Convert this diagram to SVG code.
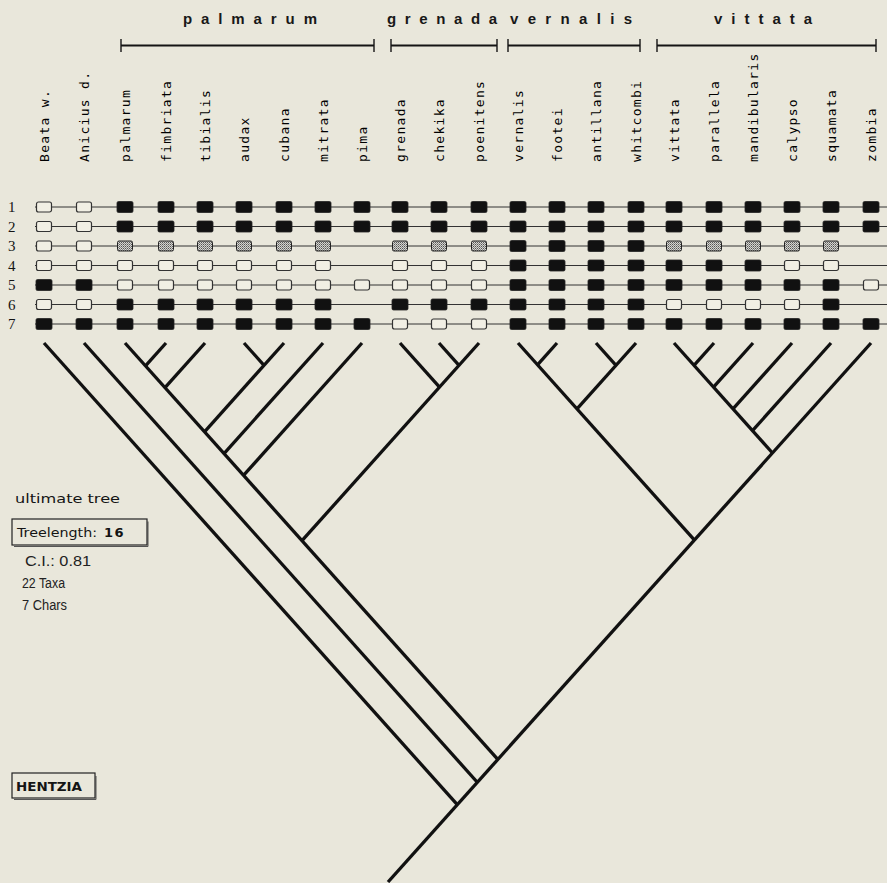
<svg xmlns="http://www.w3.org/2000/svg" width="887" height="883" viewBox="0 0 887 883">
<style>
.hdr{font-family:"Liberation Sans",Arial,sans-serif;font-size:15px;font-weight:bold;fill:#181818}
.lbl{font-family:"DejaVu Sans Mono","Liberation Mono",monospace;font-size:13px;letter-spacing:1.3px;fill:#000}
.num{font-family:"Liberation Serif","Times New Roman",serif;font-size:15px;fill:#141414}
.txt{font-family:"DejaVu Sans","Liberation Sans",sans-serif;font-size:13px;fill:#141414}
.txt2{font-family:"Liberation Sans",Arial,sans-serif;font-size:14px;fill:#222}
.brk{stroke:#141414;stroke-width:2;fill:none}
.tick{stroke:#141414;stroke-width:1.4;fill:none}
.rowl{stroke:#333;stroke-width:1;fill:none}
.b{fill:#111;stroke:#222;stroke-width:0.8}
.o{fill:#f1efe4;stroke:#333;stroke-width:1.2}
.s{fill:url(#st);stroke:#222;stroke-width:1}
.tree line{stroke:#111;stroke-width:3.3;stroke-linecap:butt}
.box{fill:none;stroke:#222;stroke-width:1.2}
.shd{fill:none;stroke:#555;stroke-width:1}
</style>
<defs>
<pattern id="st" width="2" height="2" patternUnits="userSpaceOnUse"><rect width="2" height="2" fill="#d6d6d0"/><rect width="1" height="1" fill="#555"/><rect x="1" y="1" width="1" height="1" fill="#888"/></pattern>
<rect id="B" x="-8" y="-5.5" width="16" height="11" rx="1.5" class="b"/>
<rect id="O" x="-7.5" y="-5" width="15" height="10" rx="2" class="o"/>
<rect id="S" x="-7.5" y="-5" width="15" height="10" rx="1.5" class="s"/>
</defs>
<rect width="887" height="883" fill="#e9e7db"/>

<g id="groups">
<text class="hdr" x="183" y="24" textLength="134" lengthAdjust="spacing">palmarum</text>
<text class="hdr" x="387" y="24" textLength="110" lengthAdjust="spacing">grenada</text>
<text class="hdr" x="510" y="24" textLength="122" lengthAdjust="spacing">vernalis</text>
<text class="hdr" x="714" y="24" textLength="98" lengthAdjust="spacing">vittata</text>
<path class="brk" d="M121 45.5H374M391 45.5H497M508 45.5H640M657 45.5H876"/>
<path class="tick" d="M121 39V52M374 39V52M391 39V52M497 39V52M508 39V52M640 39V52M657 39V52M876 39V52"/>
</g>

<g id="taxa" class="lbl">
<g id="t-beata"><text transform="translate(49,162) rotate(-90)">Beata w.</text></g>
<g id="t-anicius"><text transform="translate(89,162) rotate(-90)">Anicius d.</text></g>
<g id="t-palmarum"><text transform="translate(130,162) rotate(-90)">palmarum</text></g>
<g id="t-fimbriata"><text transform="translate(171,162) rotate(-90)">fimbriata</text></g>
<g id="t-tibialis"><text transform="translate(210,162) rotate(-90)">tibialis</text></g>
<g id="t-audax"><text transform="translate(249,162) rotate(-90)">audax</text></g>
<g id="t-cubana"><text transform="translate(289,162) rotate(-90)">cubana</text></g>
<g id="t-mitrata"><text transform="translate(328,162) rotate(-90)">mitrata</text></g>
<g id="t-pima"><text transform="translate(367,162) rotate(-90)">pima</text></g>
<g id="t-grenada"><text transform="translate(405,162) rotate(-90)">grenada</text></g>
<g id="t-chekika"><text transform="translate(444,162) rotate(-90)">chekika</text></g>
<g id="t-poenitens"><text transform="translate(484,162) rotate(-90)">poenitens</text></g>
<g id="t-vernalis"><text transform="translate(523,162) rotate(-90)">vernalis</text></g>
<g id="t-footei"><text transform="translate(562,162) rotate(-90)">footei</text></g>
<g id="t-antillana"><text transform="translate(601,162) rotate(-90)">antillana</text></g>
<g id="t-whitcombi"><text transform="translate(641,162) rotate(-90)">whitcombi</text></g>
<g id="t-vittata"><text transform="translate(679,162) rotate(-90)">vittata</text></g>
<g id="t-parallela"><text transform="translate(719,162) rotate(-90)">parallela</text></g>
<g id="t-mandibularis"><text transform="translate(758,162) rotate(-90)">mandibularis</text></g>
<g id="t-calypso"><text transform="translate(797,162) rotate(-90)">calypso</text></g>
<g id="t-squamata"><text transform="translate(836,162) rotate(-90)">squamata</text></g>
<g id="t-zombia"><text transform="translate(876,162) rotate(-90)">zombia</text></g>
</g>

<g id="matrix">
<g class="num">
<text x="8" y="212">1</text><text x="8" y="231.5">2</text><text x="8" y="251">3</text><text x="8" y="270.5">4</text><text x="8" y="290">5</text><text x="8" y="309.5">6</text><text x="8" y="329">7</text>
</g>
<path class="rowl" d="M35 207H887M35 226.5H887M35 246H887M35 265.5H887M35 285H887M35 304.5H887M35 324H887"/>
<g id="row1">
<use href="#O" x="44" y="207"/><use href="#O" x="84" y="207"/>
<use href="#B" x="125" y="207"/><use href="#B" x="166" y="207"/><use href="#B" x="205" y="207"/><use href="#B" x="244" y="207"/><use href="#B" x="284" y="207"/><use href="#B" x="323" y="207"/><use href="#B" x="362" y="207"/><use href="#B" x="400" y="207"/><use href="#B" x="439" y="207"/><use href="#B" x="479" y="207"/><use href="#B" x="518" y="207"/><use href="#B" x="557" y="207"/><use href="#B" x="596" y="207"/><use href="#B" x="636" y="207"/><use href="#B" x="674" y="207"/><use href="#B" x="714" y="207"/><use href="#B" x="753" y="207"/><use href="#B" x="792" y="207"/><use href="#B" x="831" y="207"/><use href="#B" x="871" y="207"/>
</g>
<g id="row2">
<use href="#O" x="44" y="226.5"/><use href="#O" x="84" y="226.5"/>
<use href="#B" x="125" y="226.5"/><use href="#B" x="166" y="226.5"/><use href="#B" x="205" y="226.5"/><use href="#B" x="244" y="226.5"/><use href="#B" x="284" y="226.5"/><use href="#B" x="323" y="226.5"/><use href="#B" x="362" y="226.5"/><use href="#B" x="400" y="226.5"/><use href="#B" x="439" y="226.5"/><use href="#B" x="479" y="226.5"/><use href="#B" x="518" y="226.5"/><use href="#B" x="557" y="226.5"/><use href="#B" x="596" y="226.5"/><use href="#B" x="636" y="226.5"/><use href="#B" x="674" y="226.5"/><use href="#B" x="714" y="226.5"/><use href="#B" x="753" y="226.5"/><use href="#B" x="792" y="226.5"/><use href="#B" x="831" y="226.5"/><use href="#B" x="871" y="226.5"/>
</g>
<g id="row3">
<use href="#O" x="44" y="246"/><use href="#O" x="84" y="246"/>
<use href="#S" x="125" y="246"/><use href="#S" x="166" y="246"/><use href="#S" x="205" y="246"/><use href="#S" x="244" y="246"/><use href="#S" x="284" y="246"/><use href="#S" x="323" y="246"/>
<use href="#S" x="400" y="246"/><use href="#S" x="439" y="246"/><use href="#S" x="479" y="246"/>
<use href="#B" x="518" y="246"/><use href="#B" x="557" y="246"/><use href="#B" x="596" y="246"/><use href="#B" x="636" y="246"/>
<use href="#S" x="674" y="246"/><use href="#S" x="714" y="246"/><use href="#S" x="753" y="246"/><use href="#S" x="792" y="246"/><use href="#S" x="831" y="246"/>
</g>
<g id="row4">
<use href="#O" x="44" y="265.5"/><use href="#O" x="84" y="265.5"/><use href="#O" x="125" y="265.5"/><use href="#O" x="166" y="265.5"/><use href="#O" x="205" y="265.5"/><use href="#O" x="244" y="265.5"/><use href="#O" x="284" y="265.5"/><use href="#O" x="323" y="265.5"/>
<use href="#O" x="400" y="265.5"/><use href="#O" x="439" y="265.5"/><use href="#O" x="479" y="265.5"/>
<use href="#B" x="518" y="265.5"/><use href="#B" x="557" y="265.5"/><use href="#B" x="596" y="265.5"/><use href="#B" x="636" y="265.5"/><use href="#B" x="674" y="265.5"/><use href="#B" x="714" y="265.5"/><use href="#B" x="753" y="265.5"/>
<use href="#O" x="792" y="265.5"/><use href="#O" x="831" y="265.5"/>
</g>
<g id="row5">
<use href="#B" x="44" y="285"/><use href="#B" x="84" y="285"/>
<use href="#O" x="125" y="285"/><use href="#O" x="166" y="285"/><use href="#O" x="205" y="285"/><use href="#O" x="244" y="285"/><use href="#O" x="284" y="285"/><use href="#O" x="323" y="285"/><use href="#O" x="362" y="285"/><use href="#O" x="400" y="285"/><use href="#O" x="439" y="285"/><use href="#O" x="479" y="285"/>
<use href="#B" x="518" y="285"/><use href="#B" x="557" y="285"/><use href="#B" x="596" y="285"/><use href="#B" x="636" y="285"/><use href="#B" x="674" y="285"/><use href="#B" x="714" y="285"/><use href="#B" x="753" y="285"/><use href="#B" x="792" y="285"/><use href="#B" x="831" y="285"/>
<use href="#O" x="871" y="285"/>
</g>
<g id="row6">
<use href="#O" x="44" y="304.5"/><use href="#O" x="84" y="304.5"/>
<use href="#B" x="125" y="304.5"/><use href="#B" x="166" y="304.5"/><use href="#B" x="205" y="304.5"/><use href="#B" x="244" y="304.5"/><use href="#B" x="284" y="304.5"/><use href="#B" x="323" y="304.5"/>
<use href="#B" x="400" y="304.5"/><use href="#B" x="439" y="304.5"/><use href="#B" x="479" y="304.5"/><use href="#B" x="518" y="304.5"/><use href="#B" x="557" y="304.5"/><use href="#B" x="596" y="304.5"/><use href="#B" x="636" y="304.5"/>
<use href="#O" x="674" y="304.5"/><use href="#O" x="714" y="304.5"/><use href="#O" x="753" y="304.5"/><use href="#O" x="792" y="304.5"/>
<use href="#B" x="831" y="304.5"/>
</g>
<g id="row7">
<use href="#B" x="44" y="324"/><use href="#B" x="84" y="324"/><use href="#B" x="125" y="324"/><use href="#B" x="166" y="324"/><use href="#B" x="205" y="324"/><use href="#B" x="244" y="324"/><use href="#B" x="284" y="324"/><use href="#B" x="323" y="324"/><use href="#B" x="362" y="324"/>
<use href="#O" x="400" y="324"/><use href="#O" x="439" y="324"/><use href="#O" x="479" y="324"/>
<use href="#B" x="518" y="324"/><use href="#B" x="557" y="324"/><use href="#B" x="596" y="324"/><use href="#B" x="636" y="324"/><use href="#B" x="674" y="324"/><use href="#B" x="714" y="324"/><use href="#B" x="753" y="324"/><use href="#B" x="792" y="324"/><use href="#B" x="831" y="324"/><use href="#B" x="871" y="324"/>
</g>
</g>

<g id="connectors" class="tree">
<line x1="44" y1="343" x2="457.5" y2="804.9"/>
<line x1="84" y1="343" x2="477.5" y2="782.5"/>
<line x1="125" y1="343" x2="498" y2="759.6"/>
<line x1="166" y1="343" x2="145.5" y2="365.9"/>
<line x1="205" y1="343" x2="165" y2="387.7"/>
<line x1="244" y1="343" x2="264" y2="365.3"/>
<line x1="284" y1="343" x2="204.5" y2="431.8"/>
<line x1="323" y1="343" x2="224" y2="453.6"/>
<line x1="362" y1="343" x2="243.5" y2="475.4"/>
<line x1="400" y1="343" x2="439.5" y2="387.1"/>
<line x1="439" y1="343" x2="459" y2="365.3"/>
<line x1="479" y1="343" x2="302" y2="540.7"/>
<line x1="518" y1="343" x2="694.5" y2="540.2"/>
<line x1="557" y1="343" x2="537.5" y2="364.8"/>
<line x1="596" y1="343" x2="616" y2="365.3"/>
<line x1="636" y1="343" x2="577" y2="408.9"/>
<line x1="674" y1="343" x2="772.5" y2="453"/>
<line x1="714" y1="343" x2="694" y2="365.3"/>
<line x1="753" y1="343" x2="713.5" y2="387.1"/>
<line x1="792" y1="343" x2="733" y2="408.9"/>
<line x1="831" y1="343" x2="752.5" y2="430.7"/>
<line x1="871" y1="343" x2="388" y2="882"/>
</g>

<g id="info">
<text class="txt" x="15" y="503" textLength="105" lengthAdjust="spacingAndGlyphs">ultimate tree</text>
<g id="treelength">
<path class="shd" d="M148 521.5V546.5H14"/>
<rect class="box" x="12" y="519" width="135" height="26"/>
<text class="txt" x="17" y="537" font-size="14" textLength="80" lengthAdjust="spacingAndGlyphs">Treelength:</text>
<text class="txt" x="104" y="537" font-size="15" font-weight="bold" letter-spacing="1.5">16</text>
</g>
<text class="txt2" x="25" y="566" textLength="66" lengthAdjust="spacingAndGlyphs">C.I.: 0.81</text>
<text class="txt2" x="22" y="588" textLength="43" lengthAdjust="spacingAndGlyphs">22 Taxa</text>
<text class="txt2" x="22" y="610" textLength="45" lengthAdjust="spacingAndGlyphs">7 Chars</text>
<g id="hentzia">
<path class="shd" d="M96 776V799.5H14"/>
<rect class="box" x="12" y="773" width="83" height="25"/>
<text class="txt" x="16" y="791" font-size="13" font-weight="bold" textLength="66" lengthAdjust="spacingAndGlyphs">HENTZIA</text>
</g>
</g>
</svg>
